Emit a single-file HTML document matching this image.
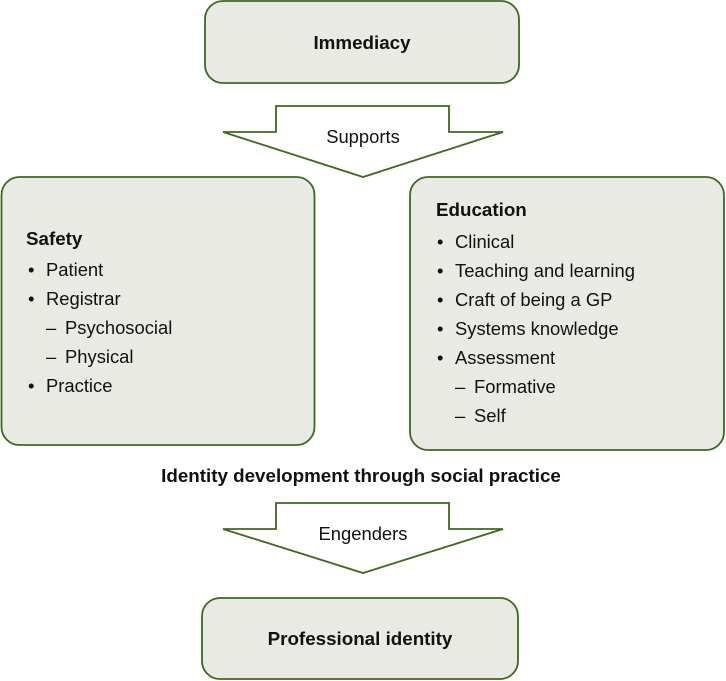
<!DOCTYPE html>
<html><head><style>body{margin:0;background:#fff}svg{display:block}text{font-family:"Liberation Sans",Arial,sans-serif;fill:#111}</style></head>
<body>
<svg width="726" height="681" viewBox="0 0 726 681" xmlns="http://www.w3.org/2000/svg">
<g fill="#e9eae4" stroke="#3b6a1c" stroke-width="1.8">
<rect x="205" y="1" width="314" height="82" rx="18"/>
<rect x="1.5" y="177" width="313" height="268" rx="18"/>
<rect x="410" y="177" width="314" height="273" rx="18"/>
<rect x="202" y="598" width="316" height="81" rx="18"/>
</g>
<g fill="#fff" stroke="#3b6a1c" stroke-width="1.8">
<polygon points="276,106 449,106 449,132 503,132 363,177 223,132 276,132"/>
<polygon points="276,503 449,503 449,529 503,529 363,573 223,529 276,529"/>
</g>
<g font-size="18.4">
<text x="362" y="49" text-anchor="middle" font-weight="bold" font-size="18.8">Immediacy</text>
<text x="363" y="143" text-anchor="middle">Supports</text>
<text x="26" y="245" font-weight="bold" font-size="18.8">Safety</text>
<text x="28" y="276">•</text><text x="46" y="276">Patient</text>
<text x="28" y="305">•</text><text x="46" y="305">Registrar</text>
<text x="46" y="334">–</text><text x="65" y="334">Psychosocial</text>
<text x="46" y="363">–</text><text x="65" y="363">Physical</text>
<text x="28" y="392">•</text><text x="46" y="392">Practice</text>
<text x="436" y="216" font-weight="bold" font-size="18.8">Education</text>
<text x="437" y="248">•</text><text x="455" y="248">Clinical</text>
<text x="437" y="277">•</text><text x="455" y="277">Teaching and learning</text>
<text x="437" y="306">•</text><text x="455" y="306">Craft of being a GP</text>
<text x="437" y="335">•</text><text x="455" y="335">Systems knowledge</text>
<text x="437" y="364">•</text><text x="455" y="364">Assessment</text>
<text x="455" y="393">–</text><text x="474" y="393">Formative</text>
<text x="455" y="422">–</text><text x="474" y="422">Self</text>
<text x="361" y="482" text-anchor="middle" font-weight="bold" font-size="18.8">Identity development through social practice</text>
<text x="363" y="540" text-anchor="middle">Engenders</text>
<text x="360" y="645" text-anchor="middle" font-weight="bold" font-size="18.8">Professional identity</text>
</g>
</svg>
</body></html>
